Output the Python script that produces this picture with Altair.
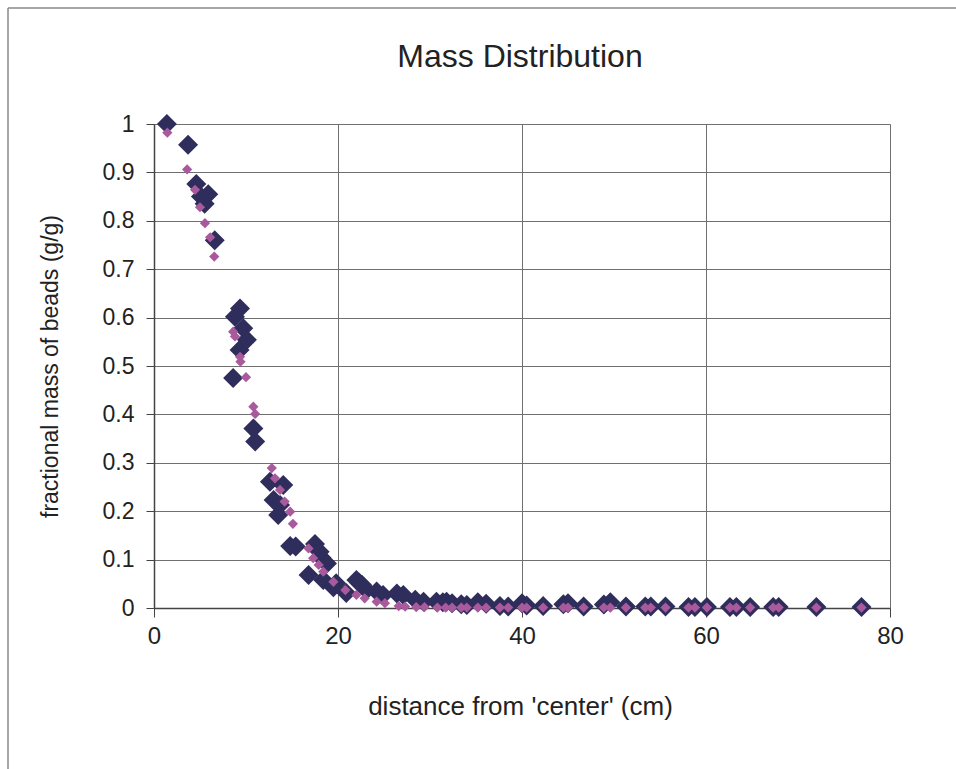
import altair as alt
import pandas as pd

# ---- data ----
x_dark = [1.4, 3.7, 4.6, 5.1, 5.5, 5.9, 6.6, 8.6, 8.8, 9.3, 9.35, 9.7, 10.1, 10.8, 11.0,
          12.6, 13.0, 13.5, 13.7, 14.05, 14.8, 15.4, 16.8, 17.5, 18.0, 18.2, 18.4, 18.8,
          19.5, 19.8, 20.9, 22.0, 22.3, 22.6, 23.1, 24.2, 24.9, 26.4, 27.1, 28.4, 29.3,
          30.7, 31.4, 31.8, 32.4, 33.4, 34.0, 35.2, 36.1, 37.6, 38.5, 40.0, 40.5, 42.3,
          44.5, 45.0, 46.7, 48.9, 49.6, 51.3, 53.4, 54.0, 55.6, 58.1, 58.8, 60.1, 62.6,
          63.3, 64.8, 67.3, 67.9, 72.0, 76.9]
y_dark = [1.0, 0.957, 0.876, 0.85, 0.835, 0.855, 0.76, 0.475, 0.602, 0.533, 0.619, 0.578,
          0.554, 0.371, 0.344, 0.261, 0.223, 0.192, 0.213, 0.254, 0.128, 0.127, 0.068,
          0.132, 0.116, 0.104, 0.058, 0.092, 0.043, 0.051, 0.031, 0.058, 0.052, 0.048,
          0.037, 0.034, 0.027, 0.03, 0.027, 0.017, 0.013, 0.013, 0.012, 0.013, 0.01,
          0.008, 0.006, 0.012, 0.009, 0.004, 0.003, 0.01, 0.005, 0.004, 0.008, 0.01,
          0.003, 0.007, 0.012, 0.003, 0.003, 0.003, 0.003, 0.002, 0.002, 0.002, 0.002,
          0.002, 0.002, 0.002, 0.002, 0.002, 0.002]

x_pink = [1.45, 3.6, 4.46, 5.0, 5.54, 6.1, 6.55, 8.6, 8.8, 9.35, 9.4, 10.0, 10.8, 11.0,
          12.8, 13.15, 13.7, 14.2, 14.8, 15.1, 16.8, 17.3, 17.9, 18.4, 19.5, 20.8, 22.0,
          22.9, 24.2, 25.1, 26.6, 27.3, 28.5, 29.4, 30.8, 31.7, 32.4, 33.4, 34.0, 35.2,
          36.1, 37.6, 38.5, 40.0, 40.5, 42.3, 44.5, 45.0, 46.7, 48.9, 49.6, 51.3, 53.4,
          54.0, 55.6, 58.1, 58.8, 60.1, 62.6, 63.3, 64.8, 67.3, 67.9, 72.0, 76.9]
y_pink = [0.982, 0.906, 0.864, 0.828, 0.795, 0.766, 0.726, 0.571, 0.561, 0.519, 0.509,
          0.477, 0.416, 0.401, 0.289, 0.268, 0.244, 0.22, 0.199, 0.174, 0.123, 0.103,
          0.089, 0.075, 0.054, 0.037, 0.027, 0.02, 0.013, 0.01, 0.004, 0.003, 0.002,
          0.002, 0.001, 0.001, 0.001, 0.001, 0.001, 0.001, 0.001, 0.001, 0.001, 0.001,
          0.001, 0.001, 0.001, 0.001, 0.001, 0.001, 0.001, 0.001, 0.001, 0.001, 0.001,
          0.001, 0.001, 0.001, 0.001, 0.001, 0.001, 0.001, 0.001, 0.001, 0.001]

x_ticks = [0, 20, 40, 60, 80]
y_ticks = [0, 0.1, 0.2, 0.3, 0.4, 0.5, 0.6, 0.7, 0.8, 0.9, 1.0]
chart_title = ["Mass Distribution"]

FONT = "Liberation Sans"
DARK = "#2E2D5C"
PINK = "#A85A9C"
TXT = "#222222"

dark_df = pd.DataFrame({"x": x_dark, "y": y_dark})
pink_df = pd.DataFrame({"x": x_pink, "y": y_pink})
title_df = pd.DataFrame({"t": chart_title})

W, H = 736, 484

xs = alt.Scale(domain=[0, 80], nice=False, zero=False)
ys = alt.Scale(domain=[0, 1], nice=False)

x_axis = alt.Axis(values=x_ticks, title="distance from 'center' (cm)", grid=True,
                  gridColor="#6f6f6f", gridWidth=1, domainColor="#444", domainWidth=1.5,
                  tickColor="#444", tickSize=9, labelPadding=7, labelFontSize=24,
                  labelFlush=False, labelOverlap=False,
                  labelColor=TXT, labelFont=FONT, titleFont=FONT, titleFontSize=26,
                  titleFontWeight="normal", titleColor=TXT, titleX=W / 2 - 2, titleY=98,
                  titleBaseline="middle", titleAlign="center")
y_axis = alt.Axis(values=y_ticks, title="fractional mass of beads (g/g)", grid=True,
                  gridColor="#6f6f6f", gridWidth=1, domainColor="#444", domainWidth=1.5,
                  tickColor="#444", tickSize=8, labelPadding=12, labelFontSize=23,
                  labelFlush=False, labelOverlap=False,
                  labelColor=TXT, labelFont=FONT, titleFont=FONT, titleFontSize=23,
                  titleFontWeight="normal", titleColor=TXT, titleX=-104, titleY=H / 2,
                  titleBaseline="middle", titleAlign="center", titleAngle=270,
                  labelExpr="datum.value == 0 ? '0' : datum.value == 1 ? '1' : format(datum.value, '.1f')")

dark = alt.Chart(dark_df).mark_point(shape="diamond", filled=True, opacity=1,
                                     size=400, color=DARK).encode(
    x=alt.X("x:Q", scale=xs, axis=x_axis),
    y=alt.Y("y:Q", scale=ys, axis=y_axis),
)
pink = alt.Chart(pink_df).mark_point(shape="diamond", filled=True, opacity=1,
                                     size=105, color=PINK).encode(
    x=alt.X("x:Q", scale=xs),
    y=alt.Y("y:Q", scale=ys),
)

title = alt.Chart(title_df).mark_text(font=FONT, fontSize=32, color=TXT,
                                      align="center", baseline="middle").encode(
    text="t:N", x=alt.value(W / 2 - 2), y=alt.value(-67))

one = pd.DataFrame({"a": [0]})
frame_top = alt.Chart(one).mark_rule(color="#8a8a8a", strokeWidth=1.5).encode(
    x=alt.value(-146), x2=alt.value(802), y=alt.value(-116))
frame_left = alt.Chart(one).mark_rule(color="#8a8a8a", strokeWidth=1.5).encode(
    x=alt.value(-146), y=alt.value(-116), y2=alt.value(645))

chart = alt.layer(frame_top, frame_left, title, dark, pink).properties(
    width=W, height=H,
    padding={"left": 154, "top": 124, "right": 66, "bottom": 161},
    autosize=alt.AutoSizeParams(type="none"),
    background="white",
).configure_view(stroke=None)

chart.save("out.html", embed_options={"renderer": "svg", "actions": False})
